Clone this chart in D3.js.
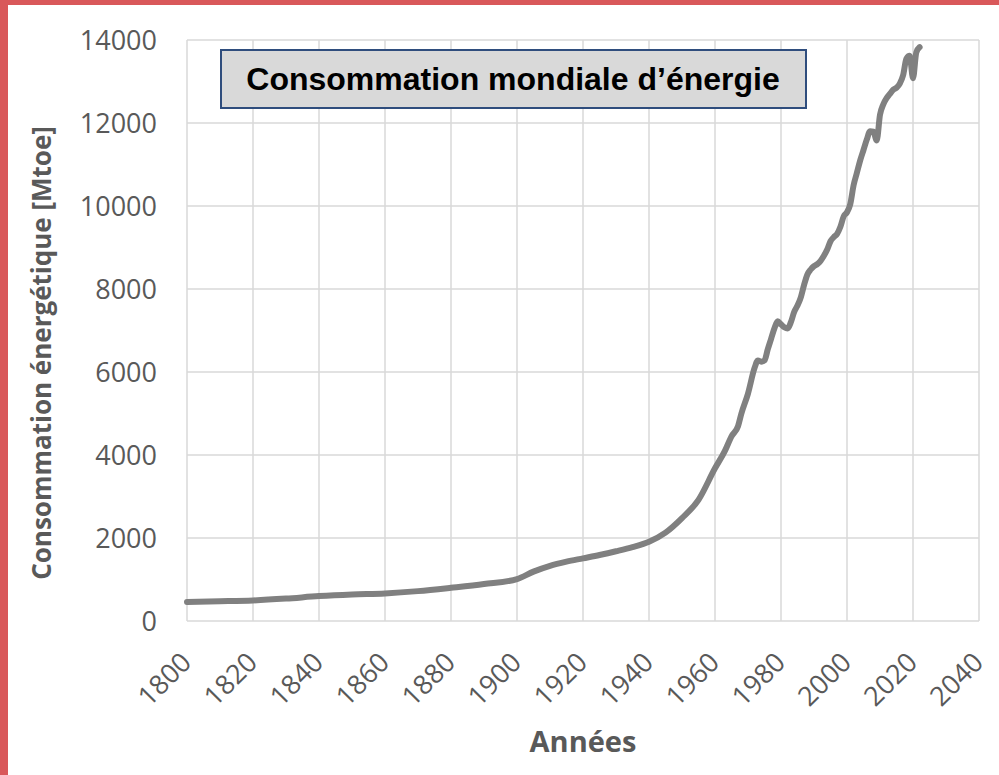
<!DOCTYPE html>
<meta charset="utf-8">
<head>
    <title>Consommation mondiale d'énergie</title>
    <script src="https://d3js.org/d3.v7.min.js"></script>
</head>

<style>
    body { margin: 0; background: #fff; }
    .grid line { stroke: #d9d9d9; stroke-width: 1.5px; }
    .tick-label { font-family: "Open Sans", sans-serif; font-size: 27px; fill: #595959; }
    .axis-title { font-family: "Open Sans", sans-serif; font-weight: bold; fill: #595959; }
</style>

<svg></svg>

<script>
    var vWidth = 999;
    var vHeight = 775;

    // Data (Mtoe)
    var years = [1800, 1810, 1820, 1830, 1840, 1850, 1860, 1870, 1880, 1890,
        1900, 1905, 1910, 1915, 1920, 1925, 1930, 1935, 1940, 1945,
        1950, 1955, 1960, 1963, 1965, 1967, 1968, 1970, 1972, 1973,
        1974, 1975, 1976, 1977, 1978, 1979, 1980, 1981, 1982, 1983,
        1984, 1985, 1986, 1987, 1988, 1989, 1990, 1991, 1992, 1993,
        1994, 1995, 1996, 1997, 1998, 1999, 2000, 2001, 2002, 2003,
        2004, 2005, 2006, 2007, 2008, 2009, 2010, 2011, 2012, 2013,
        2014, 2015, 2016, 2017, 2018, 2019, 2020, 2021, 2022];
    var consumption = [460, 475, 495, 540, 600, 640, 665, 720, 800, 890,
        1010, 1190, 1330, 1430, 1510, 1590, 1680, 1780, 1910, 2130,
        2480, 2920, 3680, 4100, 4450, 4700, 5000, 5480, 6100, 6280,
        6250, 6280, 6550, 6800, 7050, 7220, 7150, 7080, 7050, 7200,
        7450, 7600, 7800, 8100, 8350, 8470, 8550, 8600, 8680, 8800,
        8950, 9150, 9250, 9330, 9500, 9750, 9850, 10050, 10500, 10800,
        11100, 11350, 11600, 11800, 11790, 11580, 12200, 12450, 12600, 12700,
        12800, 12850, 12950, 13150, 13550, 13620, 13080, 13700, 13830];

    var xTicks = d3.range(1800, 2041, 20);
    var yTicks = d3.range(0, 14001, 2000);
    var chartTitle = "Consommation mondiale d\u2019énergie";
    var xTitle = "Années";
    var yTitle = "Consommation énergétique [Mtoe]";

    var svg = d3.select('svg').attr('width', vWidth).attr('height', vHeight);

    // Red frame on the left and top
    svg.append('rect').attr('x', 0).attr('y', 0).attr('width', 8).attr('height', vHeight).attr('fill', '#d9585a');
    svg.append('rect').attr('x', 0).attr('y', 0).attr('width', vWidth).attr('height', 5).attr('fill', '#d9585a');

    // Scales
    var x = d3.scaleLinear().domain([1800, 2040]).range([187, 979]);
    var y = d3.scaleLinear().domain([0, 14000]).range([621, 40]);

    // Grid
    var grid = svg.append('g').attr('class', 'grid');
    grid.selectAll('.v').data(xTicks).enter().append('line')
        .attr('x1', function (d) { return x(d); }).attr('x2', function (d) { return x(d); })
        .attr('y1', y(0)).attr('y2', y(14000));
    grid.selectAll('.h').data(yTicks).enter().append('line')
        .attr('x1', x(1800)).attr('x2', x(2040))
        .attr('y1', function (d) { return y(d); }).attr('y2', function (d) { return y(d); });

    // Tick labels
    svg.selectAll('.ylab').data(yTicks).enter().append('text')
        .attr('class', 'tick-label')
        .attr('x', 157).attr('y', function (d) { return y(d); })
        .attr('dy', '0.36em').attr('text-anchor', 'end')
        .text(function (d) { return d; });

    svg.selectAll('.xlab').data(xTicks).enter().append('text')
        .attr('class', 'tick-label')
        .attr('text-anchor', 'end')
        .attr('transform', function (d) { return 'translate(' + (x(d) + 6) + ',664) rotate(-45)'; })
        .text(function (d) { return d; });

    // Axis titles
    svg.append('text').attr('class', 'axis-title')
        .attr('x', x(1920)).attr('y', 752).attr('text-anchor', 'middle')
        .style('font-size', '29px').text(xTitle);
    svg.append('text').attr('class', 'axis-title')
        .attr('transform', 'translate(51,353) rotate(-90)').attr('text-anchor', 'middle')
        .style('font-size', '26px').text(yTitle);

    // Line
    var line = d3.line()
        .x(function (d) { return x(d[0]); })
        .y(function (d) { return y(d[1]); })
        .curve(d3.curveMonotoneX);
    svg.append('path')
        .datum(d3.zip(years, consumption))
        .attr('d', line)
        .attr('fill', 'none')
        .attr('stroke', '#808080')
        .attr('stroke-width', 6)
        .attr('stroke-linejoin', 'round')
        .attr('stroke-linecap', 'round');

    // Title box
    svg.append('rect').attr('x', 221).attr('y', 50).attr('width', 585).attr('height', 58)
        .attr('fill', '#d9d9d9').attr('stroke', '#2f4d7d').attr('stroke-width', 2);
    svg.append('text').attr('x', 513).attr('y', 90).attr('text-anchor', 'middle')
        .style('font-family', '"Liberation Sans", Arial, sans-serif').style('font-weight', 'bold')
        .style('font-size', '32px').attr('fill', '#000')
        .text(chartTitle);
</script>
